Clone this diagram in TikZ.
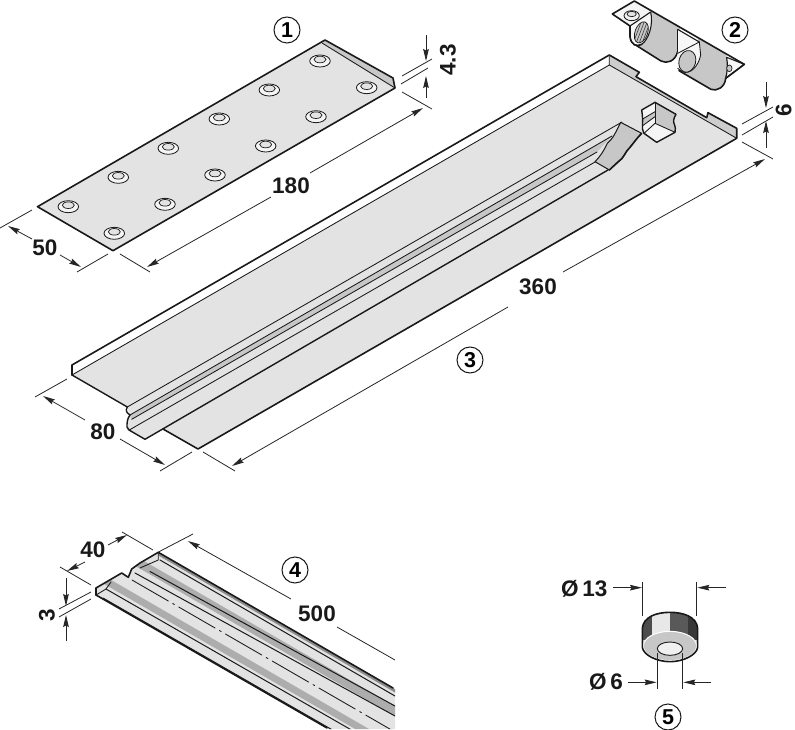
\documentclass[tikz,border=0pt]{standalone}
\usepackage{fontspec}
\setmainfont{Liberation Sans}
\usetikzlibrary{arrows.meta}
\definecolor{lt}{gray}{0.89}
\definecolor{md}{gray}{0.78}
\definecolor{bandgray}{gray}{0.68}
\definecolor{dk}{gray}{0.30}
\tikzset{
  ink/.style={draw=black!90,line join=round,line cap=round},
  thick edge/.style={ink,line width=1.6pt},
  thin edge/.style={ink,line width=0.85pt},
  extline/.style={draw=black!85,line width=0.8pt},
  dimarrow/.style={draw=black!85,line width=0.8pt,-{Stealth[length=12pt,width=5.6pt,inset=1.5pt]}},
  dimtext/.style={font=\fontsize{22.5}{22.5}\selectfont\bfseries,inner sep=0pt,text=black!90},
  circnum/.style={draw=black!90,circle,line width=1pt,minimum size=26pt,inner sep=0pt,font=\fontsize{21.5}{21.5}\selectfont\bfseries},
  zoomed/.style 2 args={shift={(#1,#2)},x=0.33333pt,y=-0.33333pt}
}
\newcommand{\holeat}[2]{%
  \path[thin edge,fill=gray!8,line width=.8pt] (#1,#2) ellipse [x radius=10.3,y radius=6];
  \path[thin edge,fill=lt,line width=.7pt] (#1,#2-1.5) ellipse [x radius=6,y radius=3.3];
}
\begin{document}
\begin{tikzpicture}[x=1pt,y=-1pt]
\useasboundingbox (0,0) rectangle (795,730);

%% ---------- Part 1 : plate
\path[fill=md] (325,40) -- (393,78) -- (395,88) -- (322,43) -- cycle;
\path[fill=lt] (37.5,206.7) -- (322,43) -- (395,88) -- (113,250.7) -- cycle;
\draw[thick edge] (37.5,206.7) -- (325,40) -- (393,78) -- (395,88) -- (113,250.7) -- cycle;
\draw[thin edge] (322,43) -- (395,88);
\foreach \hx/\hy in {68.3/206.7,114.3/233.3,118.3/177.3,165/204.3,168.3/148.3,215/175,219.3/119,265.7/146,269.3/90,316/116.7,320/61,366.7/87.7}{\holeat{\hx}{\hy}}
\node[circnum] (c1) at (287,30) {1};

\draw[extline] (32,210) -- (0,228);
\draw[extline] (108,254) -- (77,272);
\draw[dimarrow] (32,239) -- (8,226);
\draw[dimarrow] (60,255) -- (81,267);
\node[dimtext] (t50) at (45,248) {50};

\draw[extline] (120,254) -- (150,272);
\draw[extline] (402,92) -- (432,109);
\draw[dimarrow] (271,197) -- (147,267);
\draw[dimarrow] (310,173) -- (423,108);
\node[dimtext] (t180) at (291,186) {180};

\draw[extline] (402,76) -- (432,59);
\draw[extline] (401,84) -- (428,68);
\draw[dimarrow] (426,35) -- (426,61);
\draw[dimarrow] (426,98) -- (426,76);
\node[dimtext,rotate=90] (t43) at (448,60) {4.3};

%% ---------- Part 3 : main profile
\path[fill=lt] (72,375) -- (609,65) -- (736.7,138.3) -- (198,449) -- (163,429) -- (145,439.3) -- (127,430) -- (128,420) -- (130,415) -- (127.3,407) -- cycle;
% rear flange
\path[fill=md!90!white] (609.3,55) -- (639.3,72.3) -- (636,76.7) -- (706.7,117.7) -- (708,112.7) -- (736.7,128.3) -- (736.7,138.3) -- (609.3,65) -- cycle;
% trough stripe
\path[fill=md] (130,415) -- (131.7,419.3) -- (597,152) -- (612,136) -- cycle;
\draw[thick edge] (72,375) -- (72,365) -- (609.3,55) -- (639.3,72.3) -- (636,76.7) -- (706.7,117.7) -- (708,112.7) -- (736.7,128.3) -- (736.7,138.3) -- (198,449) -- (163,429);
\draw[thin edge] (609.3,55) -- (609.3,65) -- (736.7,138.3);
\draw[thin edge] (72,375) -- (609.3,65);
\draw[thick edge,line width=1.4pt] (72,375) -- (127.3,407) .. controls (125,411) and (127,413) .. (130,415) .. controls (127,419) and (127,423) .. (127,427) -- (129,430) -- (145,439.3) -- (608,170);
\draw[thin edge] (127.3,407) -- (622,122);
\draw[thin edge] (130,415) -- (612,136);
\draw[thin edge] (131.7,419.3) -- (597,152);
\draw[thin edge] (129.3,430) -- (595,162);
\begin{scope}[zoomed={520}{60}]
  % end of trough
  \path[fill=md,ink,line width=1pt] (302,187) -- (365,220) .. controls (350,235) and (340,250) .. (330,262) .. controls (315,275) and (312,295) .. (295,305) -- (268,330) -- (225,305) .. controls (240,290) and (250,275) .. (262,250) .. controls (280,235) and (288,215) .. (302,187) -- cycle;
  \draw[thick edge] (365,220) .. controls (350,235) and (340,250) .. (330,262) .. controls (315,275) and (312,295) .. (295,305) -- (268,330);
  % cut-out stub
  \path[fill=gray!8] (365,150) -- (405,127) -- (405,190) -- (372,220) .. controls (362,205) and (372,190) .. (365,150) -- cycle;
  \path[fill=md] (368,177) -- (405,155) -- (405,170) -- (368,197) -- cycle;
  \path[fill=md] (405,127) -- (468,163) .. controls (460,175) and (460,185) .. (462,190) .. controls (466,200) and (468,210) .. (465,217) -- (405,190) -- cycle;
  \path[fill=gray!8] (372,220) -- (405,190) -- (465,217) -- (410,247) -- cycle;
  \draw[thin edge] (368,177) -- (405,155);
  \draw[thin edge] (368,197) -- (405,170);
  \draw[thin edge] (405,127) -- (405,190);
  \draw[thin edge] (372,220) -- (405,190) -- (465,217);
  \draw[thick edge,line width=1.4pt] (365,150) -- (405,127) -- (468,163) .. controls (460,175) and (460,185) .. (462,190) .. controls (466,200) and (468,210) .. (465,217) -- (410,247) -- (372,220) .. controls (362,205) and (372,190) .. (365,150) -- cycle;
\end{scope}
\node[circnum] (c3) at (470,360) {3};

\draw[extline] (67,379) -- (35,397);
\draw[extline] (192,452) -- (160,471);
\draw[dimarrow] (85,420) -- (43,396);
\draw[dimarrow] (120,439) -- (165,465);
\node[dimtext] (t80) at (103,432) {80};

\draw[extline] (203,452) -- (235,471);
\draw[extline] (742,142) -- (773,159);
\draw[dimarrow] (508,307) -- (232,466);
\draw[dimarrow] (563,272) -- (765,159);
\node[dimtext] (t360) at (538,287) {360};

\draw[extline] (742,124) -- (773,107);
\draw[extline] (742,135) -- (773,117);
\draw[dimarrow] (766,82) -- (766,108);
\draw[dimarrow] (766,148) -- (766,121);
\node[dimtext,rotate=90] (t6) at (783.5,110) {6};

%% ---------- Part 2 : clip
\begin{scope}[zoomed={605}{0}]
  % left tab
  \path[fill=gray!8] (22,42) -- (88,3) -- (145,36) -- (75,78) -- cycle;
  \path[thin edge,fill=gray!10,line width=.8pt] (80,47) ellipse [x radius=23,y radius=15];
  \path[thin edge,fill=lt,line width=.7pt] (80,42) ellipse [x radius=14,y radius=8];
  % right cylinder
  \path[fill=md] (283,115) -- (365,165) -- (362,235) .. controls (360,262) and (335,275) .. (318,268) -- (225,215) -- (218,170) -- cycle;
  \draw[thick edge] (222,212) -- (318,268) .. controls (335,275) and (360,262) .. (362,235);
  \draw[thin edge] (362,235) .. controls (368,215) and (368,190) .. (365,172);
  % left cylinder
  \path[fill=md] (140,33) -- (225,82) -- (218,155) .. controls (210,185) and (185,192) .. (168,183) -- (85,132) -- cycle;
  \draw[thick edge] (95,137) -- (168,183) .. controls (185,192) and (210,185) .. (218,155);
  \path[fill=gray!6,ink,line width=1.1pt] (75,78) -- (137,36) .. controls (146,75) and (130,120) .. (110,133) .. controls (95,142) and (78,135) .. (75,110) -- cycle;
  \begin{scope}
    \clip[rotate around={-20:(109,97)}] (109,97) ellipse [x radius=19,y radius=33];
    \fill[md] (80,55) rectangle (140,140);
    \foreach \i in {-27,-18,...,30}{\draw[draw=black!75,line width=.6pt] (85+\i,128) -- (110+\i,62);}
  \end{scope}
  \path[ink,line width=.7pt,rotate around={-20:(109,97)}] (109,97) ellipse [x radius=19,y radius=33];
  % middle window
  \path[fill=gray!6] (218,88) -- (283,126) -- (287,165) .. controls (280,200) and (255,225) .. (232,215) -- (218,205) -- (218,165) -- cycle;
  \draw[thin edge] (218,160) -- (283,126) -- (287,165) .. controls (280,200) and (255,225) .. (232,215) -- (218,205);
  \draw[thin edge,line width=1.1pt] (218,88) -- (283,126);
  \path[fill=md,ink,line width=.8pt,rotate around={-15:(247,184)}] (247,184) ellipse [x radius=25,y radius=33];
  \draw[thick edge] (218,90) -- (218,155);
  % right wedge
  \path[fill=gray!6,ink,line width=1.1pt] (365,172) -- (418,193) -- (362,235) .. controls (368,215) and (368,190) .. (365,172) -- cycle;
  \path[fill=md,ink,line width=.7pt] (373,205) ellipse [x radius=8,y radius=10];
  % back edge
  \draw[thick edge] (22,42) -- (88,3) -- (418,193) -- (362,235);
  \draw[thick edge] (22,42) -- (75,78) -- (75,110) .. controls (78,135) and (95,142) .. (110,133);
\end{scope}
\node[circnum] (c2) at (735,30) {2};

%% ---------- Part 4 : strip
\begin{scope}
  \clip (96,588) -- (121.7,573) -- (128.3,577.3) -- (131.7,569) -- (140,563) -- (158.3,552.3) -- (395,689) -- (395,729) -- (329,729) -- (96,595) -- cycle;
  \fill[lt] (90,540) rectangle (400,735);
  \foreach \a/\b in {17/27,55/63}{
    \path[fill=bandgray] (98.3,517.6+\a) -- (395,689+\a) -- (395,689+\b) -- (98.3,517.6+\b) -- cycle;
  }
  \draw[thin edge,line width=1pt] (160,560) -- (395,696);
  \draw[thin edge,line width=1pt] (150,571.5) -- (395,706);
  \draw[thin edge,line width=1pt] (135,573) -- (395,716);
  \draw[thin edge,line width=1pt] (106,589) -- (395,755);
  \draw[thin edge,line width=1pt] (103,598) -- (395,766);
  \draw[thin edge,dash pattern=on 42pt off 5pt on 2pt off 5pt] (132,580) -- (395,732);
  \path[fill=black!45] (158.3,552.3) -- (395,689) -- (395,692.5) -- (158.3,555.5) -- cycle;
\end{scope}
\draw[thick edge] (96,595) -- (96,588) -- (121.7,573) -- (128.3,577.3) -- (131.7,569) -- (140,563) -- (158.3,552.3) -- (393,688);
\draw[thick edge] (96,595) -- (327,728);
\draw[thin edge] (158.3,552.3) -- (158.3,560) -- (140,568);
\draw[thin edge] (96,595) -- (106,589) -- (111,582);
\node[circnum] (c4) at (295,570) {4};

\draw[extline] (122,532) -- (153,550);
\draw[extline] (60,567) -- (91,585);
\draw[extline] (158.5,552) -- (193,534);
\draw[dimarrow] (108,545) -- (127,535);
\draw[dimarrow] (85,562) -- (67,571);
\node[dimtext] (t40) at (93,550) {40};
\draw[dimarrow] (291,599) -- (188,541);
\draw[extline] (337,627) -- (395,660);
\node[dimtext] (t500) at (317,614) {500};
\draw[extline] (59,609) -- (91,592);
\draw[extline] (59,617) -- (91,599);
\draw[dimarrow] (66,578) -- (66,606);
\draw[dimarrow] (66,641) -- (66,615);
\node[dimtext,rotate=90] (t3) at (47,615) {3};

%% ---------- Part 5 : ferrule
\begin{scope}[zoomed={550}{560}]
  \path[fill=lt] (277,205) .. controls (280,170) and (320,157) .. (360,157) .. controls (400,157) and (440,170) .. (443,205) -- (443,262) .. controls (440,285) and (400,305) .. (360,305) .. controls (320,305) and (280,285) .. (277,262) -- cycle;
  \begin{scope}
    \clip (277,205) .. controls (280,170) and (320,157) .. (360,157) .. controls (400,157) and (440,170) .. (443,205) -- (443,262) -- (277,262) -- cycle;
    \fill[dk] (270,150) rectangle (305,270);
    \fill[gray!18] (305,150) rectangle (360,270);
    \fill[black!65] (360,150) rectangle (415,270);
    \fill[black!78] (415,150) rectangle (450,270);
  \end{scope}
  \path[fill=black!20] (277,262) .. controls (280,285) and (320,305) .. (360,305) .. controls (400,305) and (440,285) .. (443,262) -- (443,240) -- (277,240) -- cycle;
  \path[fill=md,draw=white,line width=1pt] (360,258) ellipse [x radius=80,y radius=44];
  \path[fill=gray!12,ink,line width=.9pt] (360,266) ellipse [x radius=38,y radius=20];
  \draw[thick edge] (277,262) -- (277,205) .. controls (280,170) and (320,157) .. (360,157) .. controls (400,157) and (440,170) .. (443,205) -- (443,262) .. controls (440,285) and (400,305) .. (360,305) .. controls (320,305) and (280,285) .. (277,262);
  \draw[extline] (278,65) -- (278,168);
  \draw[extline] (440,65) -- (440,168);
  \draw[dimarrow] (190,83) -- (276,83);
  \draw[dimarrow] (527,83) -- (442,83);
  \node[dimtext] (t13) at (103,85) {Ø\,13};
  \draw[extline] (322,280) -- (322,387);
  \draw[extline] (398,280) -- (398,387);
  \draw[dimarrow] (235,367) -- (320,367);
  \draw[dimarrow] (483,367) -- (400,367);
  \node[dimtext] (t6d) at (168,365) {Ø\,6};
\end{scope}
\node[circnum] (c5) at (668,717) {5};
\end{tikzpicture}
\end{document}
